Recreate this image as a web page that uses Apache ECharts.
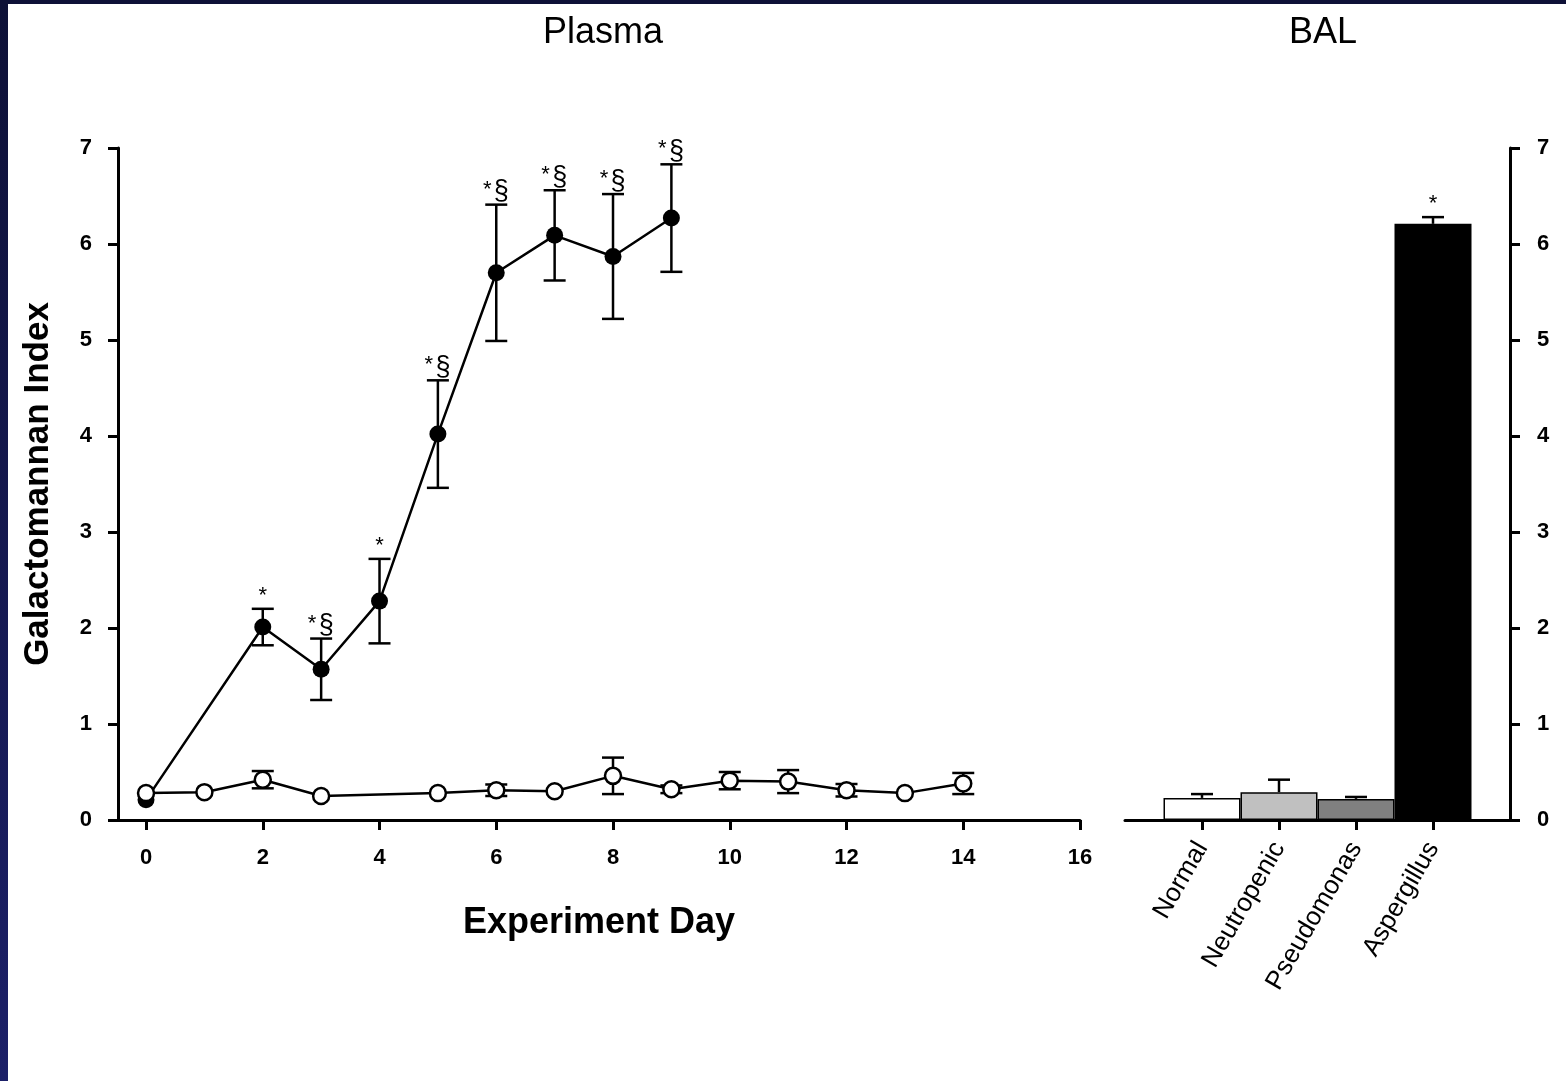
<!DOCTYPE html>
<html>
<head>
<meta charset="utf-8">
<title>Galactomannan Index</title>
<script src="https://cdn.jsdelivr.net/npm/echarts@6/dist/echarts.min.js"></script>
<style>
  html, body { margin: 0; padding: 0; background: #ffffff; }
  #chart { width: 1566px; height: 1081px; }
</style>
</head>
<body>
<div id="chart"></div>
<script>
// Plasma galactomannan, infected (Aspergillus) animals: day, mean, SE, significance marks
const aspDays = [0, 2, 3, 4, 5, 6, 7, 8, 9];
const aspMean = [0.21, 2.01, 1.57, 2.28, 4.02, 5.70, 6.09, 5.87, 6.27];
const aspSE   = [0, 0.19, 0.32, 0.44, 0.56, 0.71, 0.47, 0.65, 0.56];
const aspMarks = ['', '*', '*§', '*', '*§', '*§', '*§', '*§', '*§'];

// Plasma galactomannan, control animals
const ctrlDays = [0, 1, 2, 3, 5, 6, 7, 8, 9, 10, 11, 12, 13, 14];
const ctrlMean = [0.28, 0.29, 0.42, 0.25, 0.28, 0.31, 0.30, 0.46, 0.32, 0.41, 0.40, 0.31, 0.28, 0.38];
const ctrlSE   = [0, 0, 0.09, 0, 0, 0.06, 0, 0.19, 0.04, 0.09, 0.12, 0.065, 0, 0.11];

// Bronchoalveolar lavage galactomannan by group
const balGroups = ['Normal', 'Neutropenic', 'Pseudomonas', 'Aspergillus'];
const balMean = [0.23, 0.29, 0.22, 6.21];
const balSE   = [0.04, 0.13, 0.02, 0.07];
const balMarks = ['', '', '', '*'];

// Axis ticks
const dayTicks = [0, 2, 4, 6, 8, 10, 12, 14, 16];
const groupTicks = [1, 2, 3, 4];

// Bar fills per group
const barFills = ['#ffffff', '#c0c0c0', '#808080', '#000000'];

const FONT = '"Liberation Sans", Arial, Helvetica, sans-serif';
const CAP = 11; // half width of an error-bar cap, px

// Draws vertical error bars with caps plus optional significance marks above
function errorBars(marks, upOnly) {
  return function (params, api) {
    const x = api.value(0);
    const mean = api.value(1);
    const se = api.value(2);
    const idx = api.value(3);
    const children = [];
    const top = api.coord([x, mean + se]);
    const bot = api.coord([x, upOnly ? mean : mean - se]);
    const ls = { stroke: '#000', lineWidth: 2.5 };
    if (se > 0) {
      children.push({ type: 'line', shape: { x1: top[0], y1: top[1], x2: bot[0], y2: bot[1] }, style: ls });
      children.push({ type: 'line', shape: { x1: top[0] - CAP, y1: top[1], x2: top[0] + CAP, y2: top[1] }, style: ls });
      if (!upOnly) {
        children.push({ type: 'line', shape: { x1: bot[0] - CAP, y1: bot[1], x2: bot[0] + CAP, y2: bot[1] }, style: ls });
      }
    }
    const m = marks ? marks[idx] : '';
    if (m === '*') {
      children.push({ type: 'text', style: { text: '*', x: top[0], y: top[1] - 13, align: 'center', verticalAlign: 'middle', font: '22px ' + FONT, fill: '#000' } });
    } else if (m === '*§') {
      children.push({ type: 'text', style: { text: '*', x: top[0] - 9, y: top[1] - 15, align: 'center', verticalAlign: 'middle', font: '22px ' + FONT, fill: '#000' } });
      children.push({ type: 'text', style: { text: '§', x: top[0] + 5, y: top[1] - 13, align: 'center', verticalAlign: 'middle', font: '27px ' + FONT, fill: '#000' } });
    }
    return { type: 'group', children: children };
  };
}

const axisLineStyle = { color: '#000', width: 3 };
const tickLabel = { color: '#000', fontSize: 22, fontWeight: 'bold', fontFamily: FONT };

const chart = echarts.init(document.getElementById('chart'), null, { renderer: 'canvas' });

chart.setOption({
  animation: false,
  backgroundColor: '#ffffff',
  graphic: [
    {
      type: 'rect', left: 0, top: 0, z: 100,
      shape: { width: 8, height: 1081 },
      style: { fill: new echarts.graphic.LinearGradient(0, 0, 0, 1, [
        { offset: 0, color: '#0e1137' }, { offset: 1, color: '#1c2068' }]) }
    },
    {
      type: 'rect', left: 0, top: 0, z: 100,
      shape: { width: 1566, height: 4 },
      style: { fill: '#0e1137' }
    }
  ],
  title: [
    { text: 'Plasma', left: 598, top: 10, textAlign: 'center',
      textStyle: { fontSize: 36, fontWeight: 'normal', color: '#000', fontFamily: FONT } },
    { text: 'BAL', left: 1318, top: 10, textAlign: 'center',
      textStyle: { fontSize: 36, fontWeight: 'normal', color: '#000', fontFamily: FONT } }
  ],
  grid: [
    { left: 118, top: 148, width: 962, height: 672 },
    { left: 1125, top: 148, width: 385, height: 672 }
  ],
  xAxis: [
    {
      gridIndex: 0, type: 'value', min: -0.48, max: 16,
      name: 'Experiment Day', nameLocation: 'middle', nameGap: 85, nameMoveOverlap: false,
      nameTextStyle: { color: '#000', fontSize: 36, fontWeight: 'bold', fontFamily: FONT },
      axisLine: { show: true, onZero: false, lineStyle: axisLineStyle },
      axisTick: { show: true, length: 10, lineStyle: axisLineStyle, customValues: dayTicks },
      axisLabel: Object.assign({ margin: 27, customValues: dayTicks }, tickLabel),
      splitLine: { show: false }
    },
    {
      gridIndex: 1, type: 'value', min: 0, max: 5,
      axisLine: { show: true, onZero: false, lineStyle: axisLineStyle },
      axisTick: { show: true, length: 10, lineStyle: axisLineStyle, customValues: groupTicks },
      axisLabel: {
        customValues: groupTicks, rotate: 60, margin: 24,
        color: '#000', fontSize: 26, fontFamily: FONT,
        formatter: function (v) { return balGroups[Math.round(v) - 1] || ''; }
      },
      splitLine: { show: false }
    }
  ],
  yAxis: [
    {
      gridIndex: 0, type: 'value', min: 0, max: 7, interval: 1,
      name: 'Galactomannan Index', nameLocation: 'middle', nameGap: 62, nameMoveOverlap: false,
      nameTextStyle: { color: '#000', fontSize: 35, fontWeight: 'bold', fontFamily: FONT },
      axisLine: { show: true, onZero: false, lineStyle: axisLineStyle },
      axisTick: { show: true, length: 10, lineStyle: axisLineStyle },
      axisLabel: Object.assign({ margin: 26 }, tickLabel),
      splitLine: { show: false }
    },
    {
      gridIndex: 1, type: 'value', min: 0, max: 7, interval: 1, position: 'right',
      axisLine: { show: true, onZero: false, lineStyle: axisLineStyle },
      axisTick: { show: true, length: 10, lineStyle: axisLineStyle },
      axisLabel: Object.assign({ margin: 27 }, tickLabel),
      splitLine: { show: false }
    }
  ],
  series: [
    {
      type: 'custom', xAxisIndex: 0, yAxisIndex: 0, z: 1,
      renderItem: errorBars(aspMarks, false),
      data: aspDays.map((d, i) => [d, aspMean[i], aspSE[i], i])
    },
    {
      type: 'line', xAxisIndex: 0, yAxisIndex: 0, z: 2,
      data: aspDays.map((d, i) => [d, aspMean[i]]),
      symbol: 'circle', symbolSize: 17,
      itemStyle: { color: '#000', borderColor: '#000', borderWidth: 0 },
      lineStyle: { color: '#000', width: 2.5 }
    },
    {
      type: 'custom', xAxisIndex: 0, yAxisIndex: 0, z: 3,
      renderItem: errorBars(null, false),
      data: ctrlDays.map((d, i) => [d, ctrlMean[i], ctrlSE[i], i])
    },
    {
      type: 'line', xAxisIndex: 0, yAxisIndex: 0, z: 4,
      data: ctrlDays.map((d, i) => [d, ctrlMean[i]]),
      symbol: 'circle', symbolSize: 16,
      itemStyle: { color: '#fff', borderColor: '#000', borderWidth: 2.5 },
      lineStyle: { color: '#000', width: 2.5 }
    },
    {
      type: 'bar', xAxisIndex: 1, yAxisIndex: 1, z: 2, barWidth: 77,
      data: balGroups.map((g, i) => ({
        value: [i + 1, balMean[i]],
        itemStyle: { color: barFills[i], borderColor: '#000', borderWidth: 1.5 }
      }))
    },
    {
      type: 'custom', xAxisIndex: 1, yAxisIndex: 1, z: 1,
      renderItem: errorBars(balMarks, true),
      data: balGroups.map((g, i) => [i + 1, balMean[i], balSE[i], i])
    }
  ]
});
</script>
</body>
</html>
